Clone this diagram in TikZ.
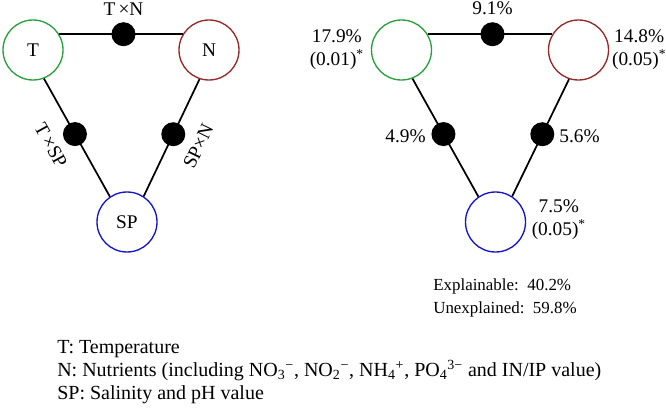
\documentclass[tikz,border=0pt]{standalone}
\usepackage{fontspec}
\setmainfont{Liberation Serif}
\usepackage{tikz}
\usetikzlibrary{positioning,calc}

\definecolor{tgreen}{RGB}{40,160,60}
\definecolor{nred}{RGB}{150,40,40}
\definecolor{spblue}{RGB}{20,20,200}

\begin{document}
\begin{tikzpicture}[
      x=0.75pt,y=-0.75pt,
      every node/.style={font=\fontsize{14.5}{17.2}\selectfont},
      factor/.style={draw,circle,line width=1pt,minimum size=45pt,inner sep=0pt},
      inter/.style={fill=black,circle,minimum size=18pt,inner sep=0pt},
      link/.style={line width=1.3pt},
      pct/.style={align=center,inner sep=0pt},
    ]
    \useasboundingbox (0,0) rectangle (666,410);

    % factors, left
    \node[factor,draw=tgreen] (t) at (33,50) {T};
    \node[factor,draw=nred] (n) at (209,50) {N};
    \node[factor,draw=spblue] (sp) at (127,222) {SP};

    % interactions, left
    \draw[link] (t.31) -- node[inter,pos=0.52] (tn) {} (n.149);
    \draw[link] (t.-69) -- node[inter,pos=0.47] (tsp) {} (sp.124);
    \draw[link] (n.-108) -- node[inter,pos=0.47] (spn) {} (sp.57);
    \node[above=4.5pt of tn,inner sep=0pt] {T\,×N};
    \node[rotate=-61] at ($(tsp)+(-24,11)$) {T\,×SP};
    \node[rotate=64] at ($(spn)+(25,12)$) {SP×N};

    % factors, right
    \node[factor,draw=tgreen] (t2) at (401.5,50) {};
    \node[factor,draw=nred] (n2) at (578.5,50) {};
    \node[factor,draw=spblue] (sp2) at (495.5,222) {};

    % interactions, right
    \draw[link] (t2.31) -- node[inter,pos=0.52] (tn2) {} (n2.149);
    \draw[link] (t2.-69) -- node[inter,pos=0.47] (tsp2) {} (sp2.124);
    \draw[link] (n2.-108) -- node[inter,pos=0.47] (spn2) {} (sp2.57);

    % the percentages
    \node[pct,above=5pt of tn2] {9.1\%};
    \node[pct,left=5pt of t2] {17.9\%\\(0.01)\textsuperscript{*}};
    \node[pct,right=2pt of n2] {14.8\%\\(0.05)\textsuperscript{*}};
    \node[pct,right=4pt of sp2,yshift=2pt] {7.5\%\\(0.05)\textsuperscript{*}};
    \node[pct,left=3.5pt of tsp2,yshift=-1.5pt] {4.9\%};
    \node[pct,right=3pt of spn2,yshift=-1.5pt] {5.6\%};

    \node[anchor=west,align=left,inner sep=0pt,font=\fontsize{12.7}{17.2}\selectfont] (expl) at (433,298)
      {Explainable:~~40.2\%\\Unexplained:~~59.8\%};

    % legend
    \node[anchor=west,align=left,inner sep=0pt,font=\fontsize{15}{17}\selectfont] (legend) at (57,372)
      {T: Temperature\\
       N: Nutrients (including NO\textsubscript{3}\textsuperscript{−}, NO\textsubscript{2}\textsuperscript{−}, NH\textsubscript{4}\textsuperscript{+}, PO\textsubscript{4}\textsuperscript{3−} and IN/IP value)\\
       SP: Salinity and pH value};
\end{tikzpicture}
\end{document}
